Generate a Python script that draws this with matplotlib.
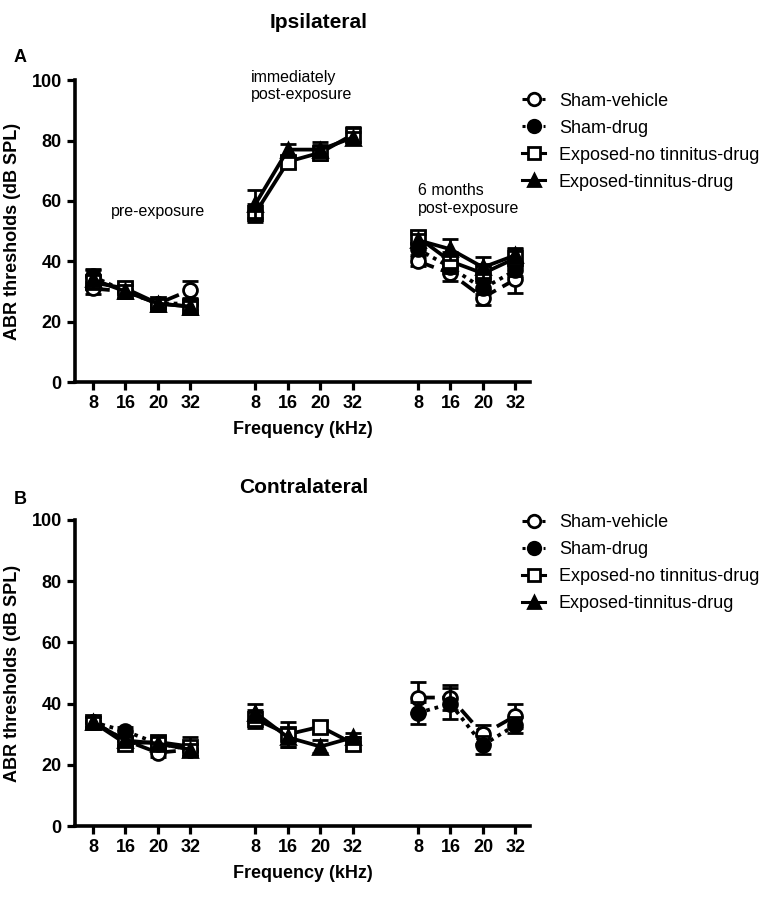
import numpy as np
import matplotlib
matplotlib.use('Agg')
import matplotlib.pyplot as plt
from matplotlib.lines import Line2D

plt.rcParams['font.family'] = ['Liberation Sans', 'DejaVu Sans']

nan = np.nan

freq_labels = ['8', '16', '20', '32']
group_positions = [[1, 2, 3, 4], [6, 7, 8, 9], [11, 12, 13, 14]]
series_names = ['Sham-vehicle', 'Sham-drug', 'Exposed-no tinnitus-drug', 'Exposed-tinnitus-drug']

# Ipsilateral: pre-exposure | immediately post | 6 months post
ipsi_sham_vehicle = [31, 30, 26, 30.5, nan, nan, nan, nan, 40, 36, 28, 34]
ipsi_sham_drug = [35, 30, 26, 26, nan, nan, nan, nan, 44, 38, 31, 37]
ipsi_exp_no_tin = [33, 31, 26, 25, 56, 73, 76, 82, 48, 40, 36, 41]
ipsi_exp_tin = [34, 30, 26, 25, 59, 77, 77, 81, 47, 44, 38, 42]

ipsi_sham_vehicle_err = [2, 2, 1.5, 3, nan, nan, nan, nan, 1.5, 2.5, 2.5, 4.5]
ipsi_sham_drug_err = [2.5, 2, 1.5, 2, nan, nan, nan, nan, 2, 2, 2, 2]
ipsi_exp_no_tin_err = [2, 2, 1.5, 2.5, 3, 2, 2.5, 2.5, 2, 3, 3, 3]
ipsi_exp_tin_err = [3, 2, 1.5, 2, 4.5, 2, 2.5, 2, 2, 3.5, 3.5, 2.5]

# Contralateral
contra_sham_vehicle = [34, 28, 24, 25, nan, nan, nan, nan, 42, 42, 30, 36]
contra_sham_drug = [34, 31, 27, 25, nan, nan, nan, nan, 37, 40, 26.5, 33]
contra_exp_no_tin = [34, 27, 27.5, 26, 35, 30, 32.5, 27, nan, nan, nan, nan]
contra_exp_tin = [34, 28, 27, 25, 37, 29, 26, 29, nan, nan, nan, nan]

contra_sham_vehicle_err = [1.5, 1.5, 1.5, 2, nan, nan, nan, nan, 5, 4, 3, 4]
contra_sham_drug_err = [1.5, 1.5, 1.5, 2, nan, nan, nan, nan, 3.5, 5, 3, 2.5]
contra_exp_no_tin_err = [1.5, 1.5, 2, 3, 3, 4, 2, 2, nan, nan, nan, nan]
contra_exp_tin_err = [1.5, 1.5, 2, 2, 3, 3, 2, 1.5, nan, nan, nan, nan]

styles = [
    dict(marker='o', mfc='white', ls=(0, (4.5, 2))),
    dict(marker='o', mfc='black', ls=(0, (1, 1.3))),
    dict(marker='s', mfc='white', ls='-'),
    dict(marker='^', mfc='black', ls='-'),
]


def draw_panel(ax, values, errors):
    for k, (vals, errs) in enumerate(zip(values, errors)):
        st = styles[k]
        for g, pos in enumerate(group_positions):
            v = np.array(vals[g * 4:g * 4 + 4], dtype=float)
            e = np.array(errs[g * 4:g * 4 + 4], dtype=float)
            if np.all(np.isnan(v)):
                continue
            ax.errorbar(pos, v, yerr=e, color='black', lw=2.7, ls=st['ls'],
                        marker=st['marker'], mfc=st['mfc'], mec='black',
                        mew=2, ms=10, capsize=5.5, capthick=2, elinewidth=2,
                        zorder=3 + k)
    ax.set_xlim(0.45, 14.45)
    ax.set_ylim(0, 100)
    ax.set_yticks([0, 20, 40, 60, 80, 100])
    ax.set_xticks([p for grp in group_positions for p in grp])
    ax.set_xticklabels(freq_labels * 3)
    for s in ['top', 'right']:
        ax.spines[s].set_visible(False)
    for s in ['left', 'bottom']:
        ax.spines[s].set_linewidth(2.6)
    ax.tick_params(width=2.3, length=6, labelsize=13)
    for lab in ax.get_xticklabels() + ax.get_yticklabels():
        lab.set_fontweight('bold')
    ax.set_xlabel('Frequency (kHz)', fontsize=13, fontweight='bold', labelpad=6)
    ax.set_ylabel('ABR thresholds (dB SPL)', fontsize=13, fontweight='bold', labelpad=8)


fig = plt.figure(figsize=(7.66, 9.01), dpi=100)
ax_a = fig.add_axes([0.098, 0.576, 0.594, 0.335])
ax_b = fig.add_axes([0.098, 0.083, 0.594, 0.340])

draw_panel(ax_a, [ipsi_sham_vehicle, ipsi_sham_drug, ipsi_exp_no_tin, ipsi_exp_tin],
           [ipsi_sham_vehicle_err, ipsi_sham_drug_err, ipsi_exp_no_tin_err, ipsi_exp_tin_err])
draw_panel(ax_b, [contra_sham_vehicle, contra_sham_drug, contra_exp_no_tin, contra_exp_tin],
           [contra_sham_vehicle_err, contra_sham_drug_err, contra_exp_no_tin_err, contra_exp_tin_err])

ax_a.text(7.95, 119, 'Ipsilateral', ha='center', va='center', fontsize=15, fontweight='bold', clip_on=False)
ax_b.text(7.5, 110.5, 'Contralateral', ha='center', va='center', fontsize=15, fontweight='bold', clip_on=False)
fig.text(0.018, 0.936, 'A', fontsize=13, fontweight='bold', va='center')
fig.text(0.018, 0.446, 'B', fontsize=13, fontweight='bold', va='center')

ax_a.text(3.0, 56.5, 'pre-exposure', ha='center', va='center', fontsize=11.5)
ax_a.text(5.85, 98, 'immediately\npost-exposure', ha='left', va='center', fontsize=11.5, linespacing=1.2)
ax_a.text(11.0, 60.5, '6 months\npost-exposure', ha='left', va='center', fontsize=11.5, linespacing=1.2)

handles = [Line2D([], [], color='black', lw=2.2, ls=st['ls'], marker=st['marker'],
                  mfc=st['mfc'], mec='black', mew=2, ms=9) for st in styles]
for top in (0.905, 0.437):
    fig.legend(handles, series_names, loc='upper left', bbox_to_anchor=(0.672, top),
               frameon=False, fontsize=13, handlelength=1.3, handletextpad=0.75,
               labelspacing=0.55, borderaxespad=0)

fig.savefig('out.png', dpi=100)
